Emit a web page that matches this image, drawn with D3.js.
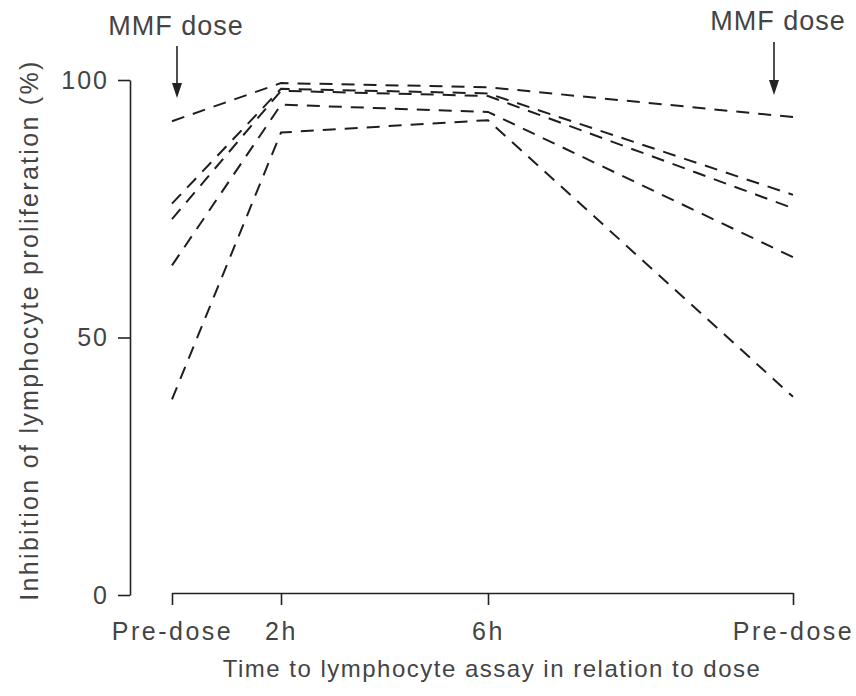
<!DOCTYPE html>
<meta charset="utf-8">
<style>
  body { margin: 0; background: #fff; }
  text { font-family: "Liberation Sans", Arial, sans-serif; fill: #444; }
</style>
<div id="chart"></div>
<script src="https://d3js.org/d3.v7.min.js"></script>
<script>

// sampling times (hours after dose) and their labels
var hours = [0, 2, 6, 12];
var tickLabels = ["Pre-dose", "2h", "6h", "Pre-dose"];
var yTicks = [0, 50, 100];

// inhibition of lymphocyte proliferation (%) for each patient
var patient1 = [92, 99.4, 98.6, 92.8];
var patient2 = [76, 98.3, 97.4, 77.7];
var patient3 = [73, 97.9, 96.9, 75.1];
var patient4 = [64, 95.2, 93.8, 65.6];
var patient5 = [38, 89.8, 92.2, 38.5];
var patients = [patient1, patient2, patient3, patient4, patient5];

var width = 856, height = 696;

var svg = d3.select("#chart")
  .append("svg")
    .attr("width", width)
    .attr("height", height);

// x positions are not evenly spaced in the figure
var x = d3.scaleLinear()
    .domain(hours)
    .range([172, 281, 488, 793]);

var y = d3.scaleLinear()
    .domain([0, 100])
    .range([595, 80]);

// Y axis
var yAxis = svg.append("g")
    .attr("transform", "translate(130,0)")
    .call(d3.axisLeft(y).tickValues(yTicks).tickSize(12).tickSizeOuter(0).tickPadding(9));
yAxis.selectAll("path, line").attr("stroke", "#222").attr("stroke-width", 1.6);
yAxis.selectAll("text")
    .style("font-size", "25px")
    .style("letter-spacing", "2px")
    .style("fill", "#444")
    .attr("font-family", null);

// X axis, drawn apart from the y axis
var xAxis = svg.append("g")
    .attr("transform", "translate(0,593)")
    .call(d3.axisBottom(x).tickValues(hours)
      .tickFormat(function(d, i) { return tickLabels[i]; })
      .tickSize(12).tickSizeOuter(0).tickPadding(17));
xAxis.selectAll("path, line").attr("stroke", "#222").attr("stroke-width", 1.6);
xAxis.selectAll("text")
    .style("font-size", "25px")
    .style("letter-spacing", "2.5px")
    .style("fill", "#444")
    .attr("font-family", null);

// axis titles
svg.append("text")
    .attr("x", 492)
    .attr("y", 677)
    .attr("text-anchor", "middle")
    .style("font-size", "24px")
    .style("letter-spacing", "1.5px")
    .text("Time to lymphocyte assay in relation to dose");

svg.append("text")
    .attr("transform", "translate(38,330) rotate(-90)")
    .attr("text-anchor", "middle")
    .style("font-size", "25px")
    .style("letter-spacing", "2.3px")
    .text("Inhibition of lymphocyte proliferation (%)");

// dashed patient lines
var line = d3.line()
    .x(function(d, i) { return x(hours[i]); })
    .y(function(d) { return y(d); });

svg.append("g")
  .selectAll("path")
  .data(patients)
  .enter().append("path")
    .attr("d", line)
    .attr("fill", "none")
    .attr("stroke", "#1e1e1e")
    .attr("stroke-width", 2)
    .attr("stroke-dasharray", "13,9");

// MMF dose annotations with arrows
var doses = [
  {x: x(0) + 5, textX: x(0) + 4, textY: 35, top: 46, tip: 98},
  {x: x(12) - 19, textX: x(12) - 15, textY: 30, top: 42, tip: 95}
];

var ann = svg.append("g")
  .selectAll("g")
  .data(doses)
  .enter().append("g");

ann.append("text")
    .attr("x", function(d) { return d.textX; })
    .attr("y", function(d) { return d.textY; })
    .attr("text-anchor", "middle")
    .style("font-size", "27px")
    .style("letter-spacing", "1px")
    .text("MMF dose");

ann.append("line")
    .attr("x1", function(d) { return d.x; })
    .attr("x2", function(d) { return d.x; })
    .attr("y1", function(d) { return d.top; })
    .attr("y2", function(d) { return d.tip - 10; })
    .attr("stroke", "#222")
    .attr("stroke-width", 1.6);

ann.append("path")
    .attr("d", function(d) {
      return "M" + (d.x - 5) + "," + (d.tip - 15) + "L" + (d.x + 5) + "," + (d.tip - 15) + "L" + d.x + "," + d.tip + "Z";
    })
    .attr("fill", "#222");

</script>
